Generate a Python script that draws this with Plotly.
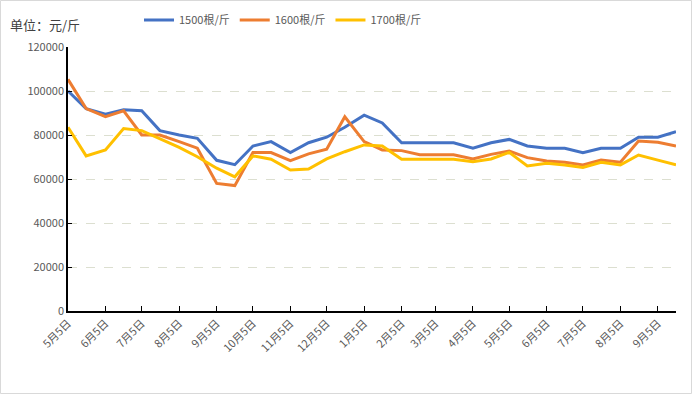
import plotly.graph_objects as go

dates = [
    "2022-05-05", "2022-05-20", "2022-06-05", "2022-06-20", "2022-07-05", "2022-07-20",
    "2022-08-05", "2022-08-20", "2022-09-05", "2022-09-20", "2022-10-05", "2022-10-20",
    "2022-11-05", "2022-11-20", "2022-12-05", "2022-12-20", "2023-01-05", "2023-01-20",
    "2023-02-05", "2023-02-20", "2023-03-05", "2023-03-20", "2023-04-05", "2023-04-20",
    "2023-05-05", "2023-05-20", "2023-06-05", "2023-06-20", "2023-07-05", "2023-07-20",
    "2023-08-05", "2023-08-20", "2023-09-05", "2023-09-20",
]

s1500 = [100000, 92000, 89500, 91500, 91000, 82000, 80000, 78500, 68500, 66500, 75000, 77000,
         72000, 76500, 79000, 83500, 89000, 85500, 76500, 76500, 76500, 76500, 74000, 76500,
         78000, 75000, 74000, 74000, 72000, 74000, 74000, 79000, 79000, 81500]
s1600 = [105300, 92000, 88300, 91000, 80000, 80000, 77000, 74000, 58000, 57000, 72000, 72000,
         68300, 71400, 73500, 88300, 77000, 73200, 72900, 71000, 71000, 71000, 69100, 71200,
         72700, 69700, 68200, 67600, 66400, 68600, 67600, 77300, 76700, 75000]
s1700 = [83500, 70500, 73200, 82900, 82000, 78200, 74400, 70100, 64900, 61000, 70500, 69000,
         64100, 64500, 69100, 72400, 75500, 75000, 69000, 69000, 69000, 69000, 67900, 69100,
         72100, 65900, 67100, 66400, 65200, 67600, 66400, 70900, 68600, 66400]

series_names = ["1500根/斤", "1600根/斤", "1700根/斤"]
colors = ["#4472C4", "#ED7D31", "#FFC000"]

tick_vals = [
    "2022-05-05", "2022-06-05", "2022-07-05", "2022-08-05", "2022-09-05", "2022-10-05",
    "2022-11-05", "2022-12-05", "2023-01-05", "2023-02-05", "2023-03-05", "2023-04-05",
    "2023-05-05", "2023-06-05", "2023-07-05", "2023-08-05", "2023-09-05",
]
tick_text = ["5月5日", "6月5日", "7月5日", "8月5日", "9月5日", "10月5日", "11月5日", "12月5日",
             "1月5日", "2月5日", "3月5日", "4月5日", "5月5日", "6月5日", "7月5日", "8月5日", "9月5日"]

FONT = "Noto Sans CJK SC"
W, H = 692, 394
ML, MR, MT, MB = 68, 16, 47, 83

fig = go.Figure()
for name, vals, c in zip(series_names, [s1500, s1600, s1700], colors):
    fig.add_trace(go.Scatter(x=dates, y=vals, mode="lines", name=name,
                             line=dict(color=c, width=3)))

pw, ph = W - ML - MR, H - MT - MB

fig.update_layout(
    width=W, height=H,
    margin=dict(l=ML, r=MR, t=MT, b=MB, autoexpand=False),
    paper_bgcolor="white", plot_bgcolor="white",
    font=dict(family=FONT, size=11, color="#595959"),
    title=dict(text="单位：元/斤", x=10 / W, xanchor="left", xref="container",
               y=1 - 25 / H, yanchor="middle",
               font=dict(family=FONT, size=13, color="#404040")),
    legend=dict(orientation="h", x=(283 - ML) / pw, xanchor="center", y=1 + 27 / ph,
                yanchor="middle", font=dict(family=FONT, size=11, color="#595959"),
                itemwidth=30, tracegroupgap=0),
    showlegend=True,
    xaxis=dict(
        type="date", range=[dates[0], dates[-1]],
        tickvals=tick_vals, ticktext=tick_text, tickangle=-45,
        showline=True, linecolor="#000000", linewidth=1.5,
        ticks="inside", ticklen=5, tickcolor="#000000",
        showgrid=False, zeroline=False,
        tickfont=dict(family=FONT, size=11, color="#595959"),
    ),
    yaxis=dict(
        range=[0, 120000], dtick=20000, tickformat="d",
        showline=True, linecolor="#000000", linewidth=1.5,
        ticks="inside", ticklen=4, tickcolor="#000000",
        showgrid=True, gridcolor="#dcdfd0", griddash="dash", gridwidth=1,
        zeroline=False,
        tickfont=dict(family=FONT, size=11, color="#595959"),
    ),
)

# outer border of the chart
fig.add_shape(type="rect", xref="paper", yref="paper",
              x0=-(ML - 0.5) / pw, x1=1 + (MR - 0.5) / pw,
              y0=-(MB - 0.5) / ph, y1=1 + (MT - 0.5) / ph,
              line=dict(color="#d9d9d9", width=1), layer="below")

fig.write_html("out.html", config={"displayModeBar": False},
               post_script="document.body.style.margin='0';document.body.style.overflow='hidden';")
